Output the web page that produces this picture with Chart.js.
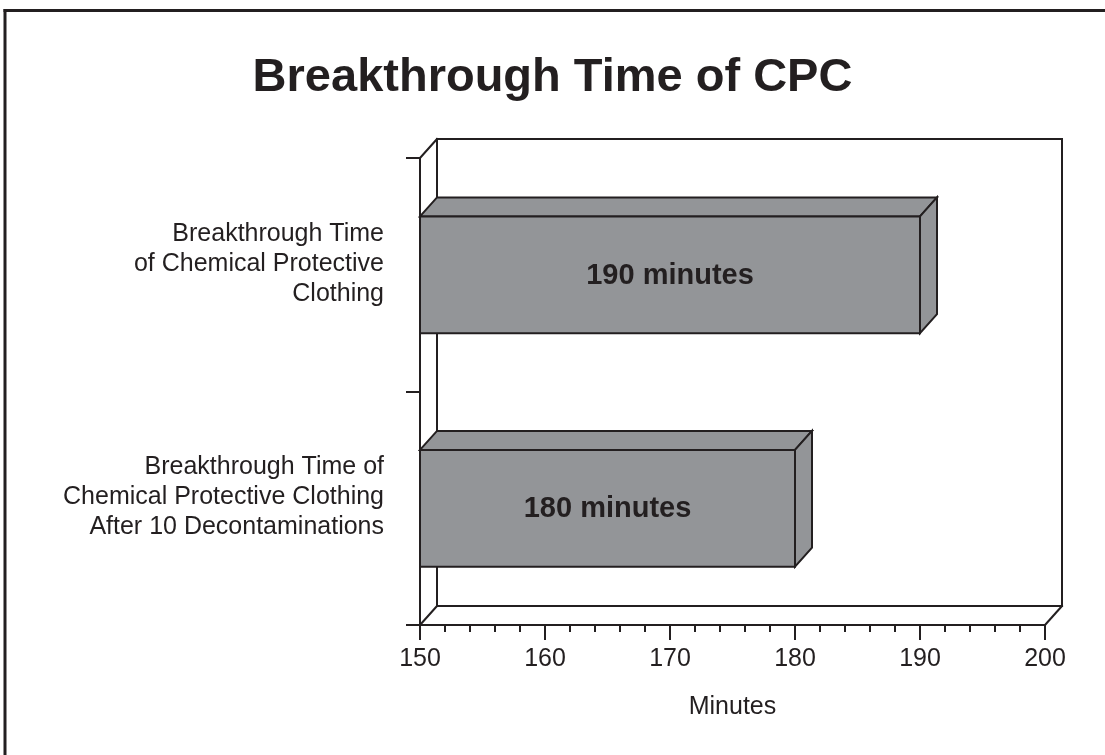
<!DOCTYPE html>
<html>
<head>
<meta charset="utf-8">
<script src="https://cdn.jsdelivr.net/npm/chart.js@4/dist/chart.umd.min.js"></script>
<style>
  html, body { margin: 0; padding: 0; background: #ffffff; }
  canvas { display: block; }
</style>
</head>
<body>
<canvas id="c" width="1105" height="755"></canvas>
<script>
// ---- data ----
const chartTitle = 'Breakthrough Time of CPC';
const categories = [
  ['Breakthrough Time', 'of Chemical Protective', 'Clothing'],
  ['Breakthrough Time of', 'Chemical Protective Clothing', 'After 10 Decontaminations']
];
const minutes = [190, 180];
const barLabels = minutes.map(v => v + ' minutes');
const xMin = 150, xMax = 200, xMajorStep = 10, xMinorStep = 2;
const xAxisTitle = 'Minutes';

// ---- styling ----
const INK = '#231f20';
const BAR = '#939598';
const FONT = "'Liberation Sans', Arial, Helvetica, sans-serif";
const DX = 17, DY = -19;

function line(ctx, x1, y1, x2, y2) {
  ctx.beginPath(); ctx.moveTo(x1, y1); ctx.lineTo(x2, y2); ctx.stroke();
}

const box3d = {
  id: 'box3d',
  beforeDraw(chart) {
    const ctx = chart.ctx;
    ctx.save();
    ctx.fillStyle = '#ffffff';
    ctx.fillRect(0, 0, chart.width, chart.height);
    ctx.strokeStyle = INK; ctx.lineWidth = 3;
    line(ctx, 3.5, 10.5, chart.width, 10.5);
    line(ctx, 5, 9, 5, chart.height);
    ctx.restore();
  },
  beforeDatasetsDraw(chart) {
    const ctx = chart.ctx;
    const {left: L, right: R, top: T, bottom: B} = chart.chartArea;
    ctx.save();
    ctx.strokeStyle = INK; ctx.lineWidth = 2; ctx.lineCap = 'square';
    // back wall
    ctx.strokeRect(L + DX, T + DY, R - L, B - T);
    // left wall
    line(ctx, L, T, L, B);
    line(ctx, L, T, L + DX, T + DY);
    line(ctx, L, B, L + DX, B + DY);
    // floor
    line(ctx, L, B, R, B);
    line(ctx, R, B, R + DX, B + DY);
    // x ticks
    const xs = chart.scales.x;
    ctx.lineWidth = 2; ctx.lineCap = 'butt';
    for (let v = xMin; v <= xMax + 1e-9; v += xMinorStep) {
      const px = Math.round(xs.getPixelForValue(v));
      const major = Math.abs((v - xMin) % xMajorStep) < 1e-9;
      line(ctx, px, B, px, B + (major ? 15 : 7));
    }
    // y ticks at category boundaries
    const ys = chart.scales.y;
    for (let i = 0; i <= categories.length; i++) {
      const py = Math.round(ys.getPixelForValue(i - 0.5));
      line(ctx, L - 14, py, L, py);
    }
    ctx.restore();
  },
  afterDatasetsDraw(chart) {
    const ctx = chart.ctx;
    const meta = chart.getDatasetMeta(0);
    ctx.save();
    ctx.strokeStyle = INK; ctx.lineWidth = 2; ctx.lineJoin = 'miter';
    meta.data.forEach((bar, i) => {
      const {x, y, base, height} = bar.getProps(['x', 'y', 'base', 'height'], true);
      const top = y - height / 2, bot = y + height / 2;
      ctx.fillStyle = BAR;
      // top face
      ctx.beginPath();
      ctx.moveTo(base, top); ctx.lineTo(base + DX, top + DY);
      ctx.lineTo(x + DX, top + DY); ctx.lineTo(x, top); ctx.closePath();
      ctx.fill(); ctx.stroke();
      // side face
      ctx.beginPath();
      ctx.moveTo(x, top); ctx.lineTo(x + DX, top + DY);
      ctx.lineTo(x + DX, bot + DY); ctx.lineTo(x, bot); ctx.closePath();
      ctx.fill(); ctx.stroke();
      // front face
      ctx.beginPath();
      ctx.rect(base, top, x - base, bot - top);
      ctx.fill(); ctx.stroke();
      // label
      ctx.fillStyle = INK;
      ctx.font = 'bold 29px ' + FONT;
      ctx.textAlign = 'center'; ctx.textBaseline = 'middle';
      ctx.fillText(barLabels[i], (base + x) / 2, y + 1);
    });
    ctx.restore();
  }
};

new Chart(document.getElementById('c'), {
  type: 'bar',
  data: {
    labels: categories,
    datasets: [{
      data: minutes,
      base: xMin,
      backgroundColor: 'rgba(0,0,0,0)',
      borderWidth: 0,
      barPercentage: 0.5,
      categoryPercentage: 1.0
    }]
  },
  options: {
    indexAxis: 'y',
    responsive: false,
    animation: false,
    devicePixelRatio: 1,
    layout: { padding: { left: 60, right: 60, top: 0, bottom: 0 } },
    plugins: {
      legend: { display: false },
      tooltip: { enabled: false },
      title: {
        display: true,
        text: chartTitle,
        color: INK,
        font: { family: FONT, size: 47, weight: 'bold', lineHeight: 1.2 },
        padding: { top: 50, bottom: 51.6 }
      }
    },
    scales: {
      x: {
        type: 'linear',
        min: xMin, max: xMax,
        grid: { display: false, drawTicks: false },
        border: { display: false },
        ticks: {
          stepSize: xMajorStep,
          color: INK,
          padding: 19,
          font: { family: FONT, size: 25, lineHeight: 1.2 }
        },
        title: {
          display: true,
          text: xAxisTitle,
          color: INK,
          font: { family: FONT, size: 25, lineHeight: 1.2 },
          padding: { top: 0, bottom: 33 }
        },
        afterFit(scale) { scale.height = 130; }
      },
      y: {
        grid: { display: false, drawTicks: false },
        border: { display: false },
        ticks: {
          color: INK,
          padding: 36,
          labelOffset: -11,
          font: { family: FONT, size: 25, lineHeight: 1.2 }
        },
        afterFit(scale) { scale.width = 360; }
      }
    }
  },
  plugins: [box3d]
});
</script>
</body>
</html>
